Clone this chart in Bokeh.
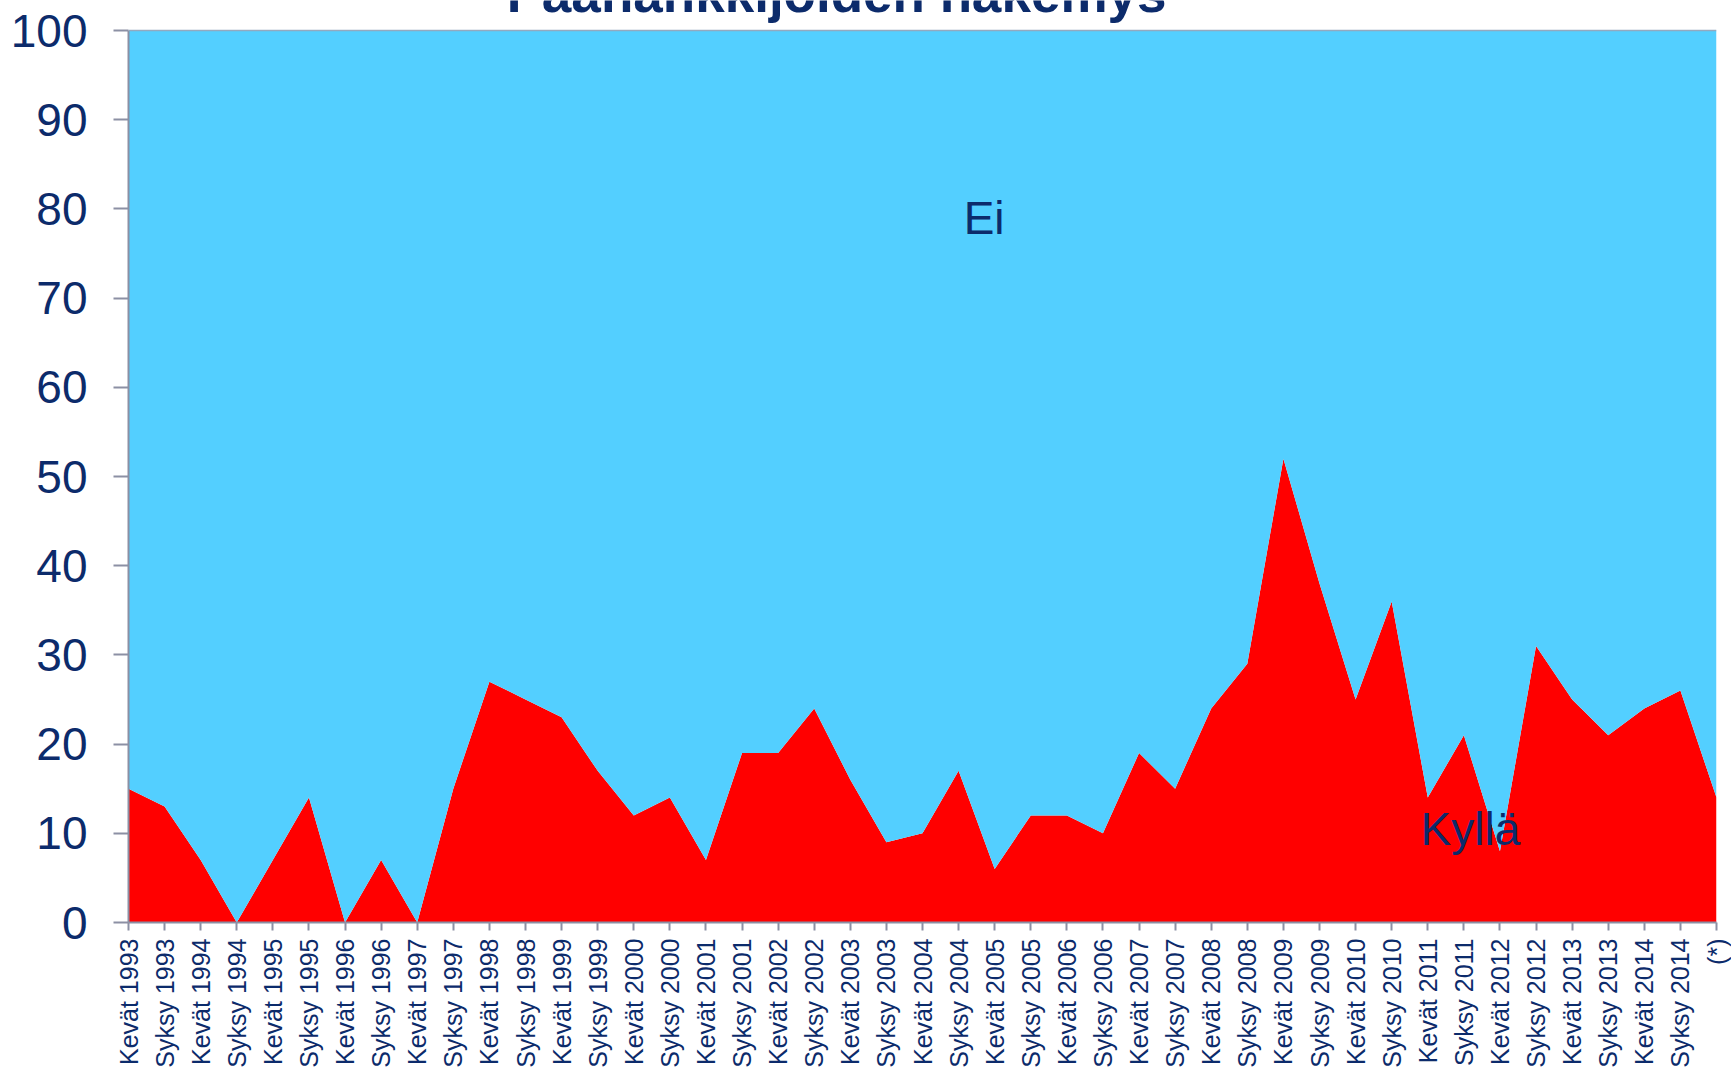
import math
from bokeh.plotting import figure
from bokeh.models import ColumnDataSource, FixedTicker, Range1d, Label, Span
from bokeh.core.properties import value
from bokeh.embed import file_html
from bokeh.resources import INLINE

# ---- data ----
categories = []
for yr in range(1993, 2015):
    categories.append(f"Kevät {yr}")
    categories.append(f"Syksy {yr}")
categories.append("(*)")

kylla = [15, 13, 7, 0, 7, 14, 0, 7, 0, 15,
         27, 25, 23, 17, 12, 14, 7, 19, 19, 24,
         16, 9, 10, 17, 6, 12, 12, 10, 19, 15,
         24, 29, 52, 38, 25, 36, 14, 21, 8, 31,
         25, 21, 24, 26, 14]
ei = [100 - v for v in kylla]

title_text = "Päähankkijoiden näkemys"
y_ticks = list(range(0, 101, 10))

NAVY = "#0c2b6b"
GRAY = "#8c90a4"
FONT = "Liberation Sans"

# frame spans the canvas top; 100 % sits 30 px below it (892 px per 100 units)
PX_PER_UNIT = 892 / 100
Y_TOP = 100 + 30 / PX_PER_UNIT

xs = list(range(len(categories)))
src = ColumnDataSource(dict(x=xs, kylla=kylla, ei=ei))

p = figure(width=1731, height=1074, output_backend="svg", toolbar_location=None,
           x_range=Range1d(0, len(categories) - 1), y_range=Range1d(0, Y_TOP),
           min_border_left=128, min_border_right=15, min_border_top=0,
           min_border_bottom=152)

p.varea_stack(["kylla", "ei"], x="x", source=src, color=["#FF0000", "#53CFFF"])

p.xgrid.visible = False
p.ygrid.visible = False
p.outline_line_color = None
p.background_fill_color = "white"

p.add_layout(Span(location=100, dimension="width", line_color="#93a9bf",
                  line_width=1.5))

# y axis
p.yaxis.ticker = FixedTicker(ticks=y_ticks)
p.yaxis.bounds = (0, 100)
p.yaxis.minor_tick_line_color = None
p.yaxis.major_tick_in = 0
p.yaxis.major_tick_out = 15
p.yaxis.major_tick_line_color = GRAY
p.yaxis.major_tick_line_width = 2
p.yaxis.axis_line_color = GRAY
p.yaxis.axis_line_width = 2
p.yaxis.major_label_text_font = FONT
p.yaxis.major_label_text_font_size = "46px"
p.yaxis.major_label_text_color = NAVY
p.yaxis.major_label_standoff = 26

# x axis
p.xaxis.ticker = FixedTicker(ticks=xs)
p.xaxis.major_label_overrides = {i: c for i, c in enumerate(categories)}
p.xaxis.major_label_orientation = math.pi / 2
p.xaxis.minor_tick_line_color = None
p.xaxis.major_tick_in = 0
p.xaxis.major_tick_out = 8
p.xaxis.major_tick_line_color = GRAY
p.xaxis.major_tick_line_width = 2
p.xaxis.axis_line_color = GRAY
p.xaxis.axis_line_width = 2
p.xaxis.major_label_text_font = FONT
p.xaxis.major_label_text_font_size = "25px"
p.xaxis.major_label_text_color = NAVY
p.xaxis.major_label_standoff = 8

# title: partly cut by the page top, as in the reference
p.text(x=[19.62], y=[100 + 17 / PX_PER_UNIT], text=[title_text],
       text_align="center", text_baseline="alphabetic", y_offset=-20,
       text_font=value(FONT), text_font_size="53px", text_font_style="bold",
       text_color=NAVY)

p.add_layout(Label(x=23.14, y=78.96, text="Ei", text_align="left",
                   text_baseline="alphabetic", text_font=FONT,
                   text_font_size="46px", text_color=NAVY))
p.add_layout(Label(x=35.8, y=10.48, text="Kyllä", text_align="left",
                   text_baseline="alphabetic", text_font=FONT,
                   text_font_size="46px", text_color=NAVY))

open("out.html", "w").write(file_html(p, INLINE))
